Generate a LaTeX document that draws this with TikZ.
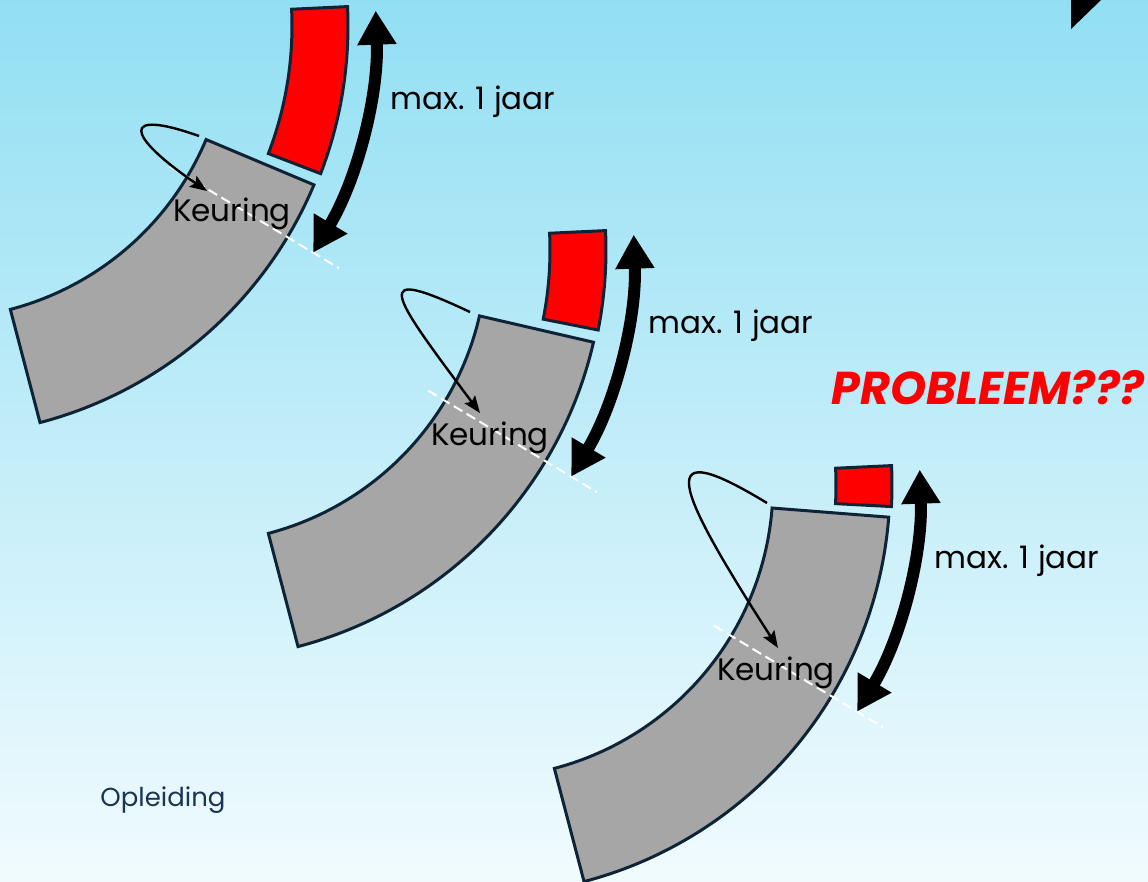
\documentclass[tikz,border=0pt]{standalone}
\usepackage{fontspec}
\setmainfont{Poppins}
\usetikzlibrary{calc,arrows.meta}
\definecolor{lijn}{RGB}{14,36,54}
\definecolor{grijs}{RGB}{166,166,166}
\definecolor{rood}{RGB}{255,0,0}
\definecolor{bgtop}{RGB}{146,223,243}
\definecolor{bgbot}{RGB}{241,251,254}
\definecolor{voet}{RGB}{26,54,84}
% ring segment: [style] centre, start angle, end angle, inner r, outer r
\newcommand{\ringpart}[6][]{%
  \draw[#1] ($(#2)+(#3:#5)$) arc[start angle=#3,end angle=#4,radius=#5]
    -- ($(#2)+(#4:#6)$) arc[start angle=#4,end angle=#3,radius=#6] -- cycle;}
\tikzset{
  period/.style={fill=grijs,draw=lijn,line width=3pt,line join=miter},
  remain/.style={fill=rood,draw=lijn,line width=3pt},
  interval/.style={line width=12pt,{Triangle[width=37pt,length=34pt]}-{Triangle[width=37pt,length=34pt]}},
  checkline/.style={white,line width=2pt,dash pattern=on 10pt off 5pt},
  turnarrow/.style={line width=2.4pt,-{Stealth[length=17pt,width=13pt,inset=3pt]}},
  label/.style={inner sep=0pt,font=\fontsize{31}{31}\selectfont}
}

\begin{document}
\begin{tikzpicture}[x=1pt,y=1pt]
  \useasboundingbox (0,0) rectangle (1148,-881);
  \shade[top color=bgtop,bottom color=bgbot] (0,0) rectangle (1148,-881);

  % three steps: centre and angles of grey / red parts
  \foreach \i/\cx/\cy/\grey/\red in {1/-64/-26/-22.8/-21, 2/194/-250/-13/-11.2, 3/480/-485/-4.5/-3}{
    \coordinate (c\i) at (\cx,\cy);
    \ringpart[period]{c\i}{-75.3}{\grey}{293}{410}
    \ringpart[remain]{c\i}{\red}{2.7}{356}{412}
    \draw[checkline] ($(c\i)+(-31:273)$) -- ($(c\i)+(-31:470)$);
    \draw[interval] ($(c\i)+(2:440)$) arc[start angle=2,end angle=-31,radius=440];
    \node[label] (keur\i) at ($(c\i)+(296,-188)$) {Keuring};
    \node[label] (max\i) at ($(c\i)+(537,-76)$) {max. 1 jaar};
  }

  % loops to the inspection
  \coordinate (s1) at (199,-136); \coordinate (t1) at (207,-191);
  \coordinate (s2) at (470,-312); \coordinate (t2) at (480,-413);
  \coordinate (s3) at (767,-503); \coordinate (t3) at (778,-648);
  \draw[turnarrow] (s1) .. controls (120,-108) and (125,-135) .. (t1);
  \draw[turnarrow] (s2) .. controls (370,-265) and (388,-290) .. (t2);
  \draw[turnarrow] (s3) .. controls (655,-435) and (670,-480) .. (t3);

  \node[inner sep=0pt,text=rood,font=\fontsize{46}{46}\selectfont\bfseries\itshape] (probleem) at (988,-388) {PROBLEEM???};
  \node[inner sep=0pt,text=voet,font=\fontsize{26}{26}\selectfont] (opleiding) at (163,-800) {Opleiding};
  \fill[black] (1071,0) -- (1101,0) -- (1071,-29) -- cycle;
\end{tikzpicture}
\end{document}
